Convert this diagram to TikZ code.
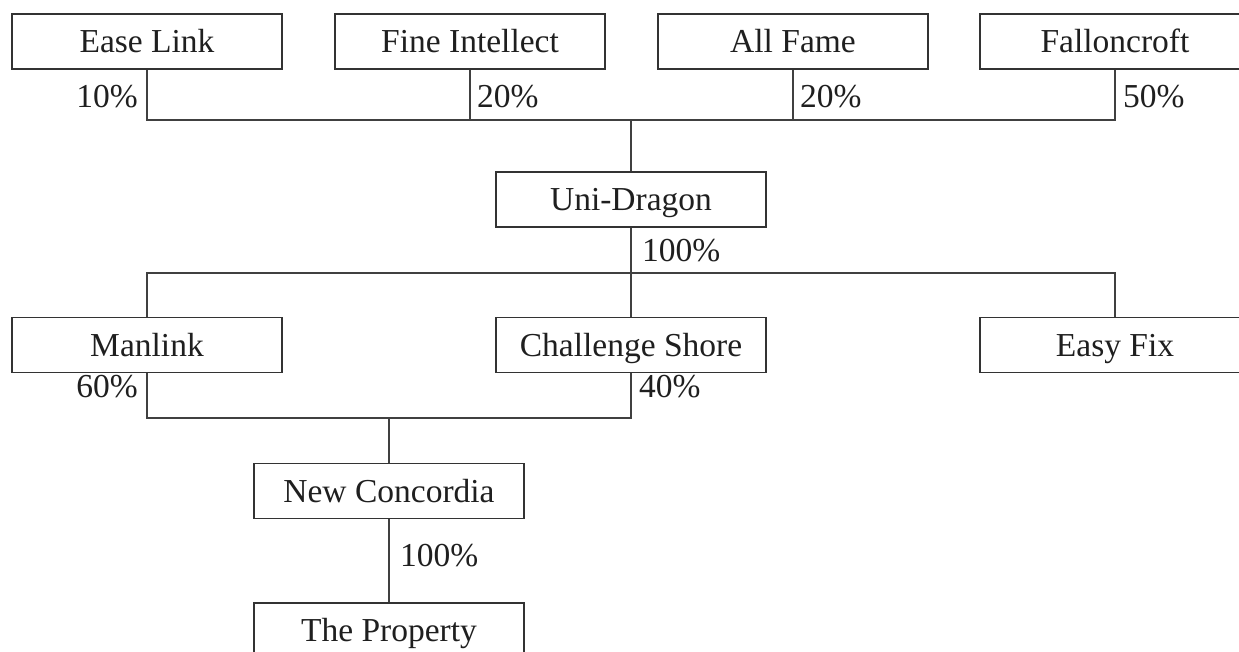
\documentclass[tikz,border=0pt]{standalone}
\usepackage{fontspec}
\setmainfont{Liberation Serif}
\begin{document}
\begin{tikzpicture}[x=1pt,y=-1pt,
  every node/.style={font=\fontsize{33.5}{40}\selectfont, text=black!88},
  entity/.style={draw=black!80, line width=1.5pt, minimum width=270pt, minimum height=55pt,
    inner sep=0pt, text height=22pt, text depth=0pt},
  pct/.style={inner sep=0pt},
  link/.style={draw=black!75, line width=1.5pt}
]
\useasboundingbox (0,0) rectangle (1239,651);
\clip (0,0) rectangle (1239,651);
% top row
\node[entity] (ease) at (147,41.5) {Ease Link};
\node[entity] (fine) at (470,41.5) {Fine Intellect};
\node[entity] (fame) at (793,41.5) {All Fame};
\node[entity] (fall) at (1115,41.5) {Falloncroft};
% middle
\node[entity] (uni) at (631,199.5) {Uni-Dragon};
% third row
\node[entity] (man) at (147,345) {Manlink};
\node[entity] (ch) at (631,345) {Challenge Shore};
\node[entity] (fix) at (1115,345) {Easy Fix};
% lower
\node[entity] (nc) at (389,491) {New Concordia};
\node[entity] (prop) at (389,630.5) {The Property};
% junctions
\coordinate (j1) at (631,120);
\coordinate (j2) at (631,273);
\coordinate (j3) at (389,418);
% connectors
\draw[link] (ease.south) |- (j1) -| (fall.south);
\draw[link] (fine.south) -- (fine.south |- j1);
\draw[link] (fame.south) -- (fame.south |- j1);
\draw[link] (j1) -- (uni.north);
\draw[link] (uni.south) -- (j2);
\draw[link] (man.north) |- (j2) -| (fix.north);
\draw[link] (j2) -- (ch.north);
\draw[link] (man.south) |- (j3) -| (ch.south);
\draw[link] (j3) -- (nc.north);
\draw[link] (nc.south) -- (prop.north);
% percentages
\node[pct, anchor=east] (p1) at (138,97) {10\%};
\node[pct, anchor=west] (p2) at (477,97) {20\%};
\node[pct, anchor=west] (p3) at (800,97) {20\%};
\node[pct, anchor=west] (p4) at (1123,97) {50\%};
\node[pct, anchor=west] (p5) at (642,251) {100\%};
\node[pct, anchor=east] (p6) at (138,387) {60\%};
\node[pct, anchor=west] (p7) at (639,387) {40\%};
\node[pct, anchor=west] (p8) at (400,556) {100\%};
\end{tikzpicture}
\end{document}
